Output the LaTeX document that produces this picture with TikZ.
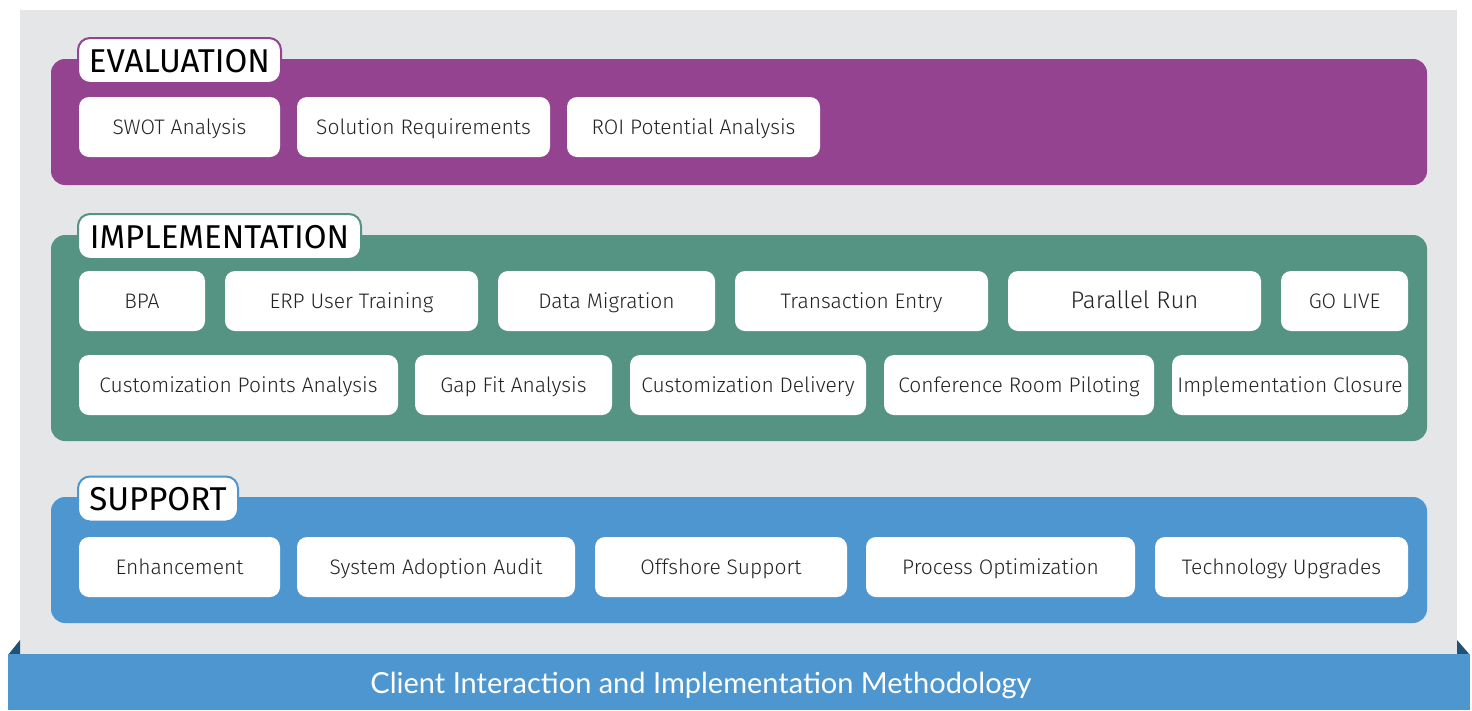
\documentclass[tikz,border=0pt]{standalone}
\usepackage{fontspec}
\setmainfont{Fira Sans}[UprightFont=* Light]
\newfontfamily\tabfont{Fira Sans}
\newfontfamily\bannerfont{Lato}

\definecolor{backgray}{RGB}{229,230,232}
\definecolor{evalpurple}{RGB}{147,67,143}
\definecolor{implgreen}{RGB}{85,147,130}
\definecolor{suppblue}{RGB}{78,150,208}
\definecolor{ribbondark}{RGB}{31,82,118}
\definecolor{itemtext}{RGB}{35,35,35}

\tikzset{
  panel/.style={fill=#1, rounded corners=14pt, inner sep=0pt},
  tab/.style={draw=#1, line width=2pt, fill=white, rounded corners=12pt,
    inner sep=0pt, minimum height=45pt, text height=23pt, text depth=0pt,
    font=\tabfont\fontsize{33}{33}\selectfont},
  item/.style={fill=white, rounded corners=10pt, inner sep=0pt,
    minimum height=60pt, text height=15pt, text depth=0pt, text=itemtext,
    font=\fontsize{21}{21}\selectfont}
}

\begin{document}
\begin{tikzpicture}[x=1pt,y=-1pt]
  \useasboundingbox (0,0) rectangle (1472,710);

  % grey board and the ribbon under it
  \fill[backgray] (20,10) rectangle (1457,655);
  \fill[ribbondark] (20,640) -- (20,655) -- (8,655) -- cycle;
  \fill[ribbondark] (1457,640) -- (1457,655) -- (1470,655) -- cycle;
  \node[fill=suppblue, minimum width=1462pt, minimum height=56pt, inner sep=0pt] (banner) at (739,682) {};
  \node[text=white, text height=20pt, text depth=0pt, inner sep=0pt,
    font=\bannerfont\fontsize{29}{29}\selectfont] (title) at (701,683)
    {Client Interaction and Implementation Methodology};

  % the three phases
  \node[panel=evalpurple, minimum width=1376pt, minimum height=126pt] (evaluation) at (739,122) {};
  \node[panel=implgreen,  minimum width=1376pt, minimum height=206pt] (implementation) at (739,338) {};
  \node[panel=suppblue,   minimum width=1376pt, minimum height=126pt] (support) at (739,560) {};

  \node[tab=evalpurple, minimum width=203pt] (evaltab) at (179.5,60.5) {EVALUATION};
  \node[tab=implgreen,  minimum width=283pt] (impltab) at (219.5,236.5) {IMPLEMENTATION};
  \node[tab=suppblue,   minimum width=160pt] (supptab) at (158,499) {SUPPORT};

  % evaluation steps
  \foreach \name/\xa/\xb/\txt in {swot/79/280/SWOT Analysis,
      solreq/297/550/Solution Requirements,
      roi/567/820/ROI Potential Analysis}
    \node[item, minimum width={\xb-\xa}] (\name) at ({(\xa+\xb)/2},127) {\txt};

  % implementation steps
  \foreach \name/\xa/\xb/\txt in {bpa/79/205/BPA,
      training/225/478/ERP User Training,
      migration/498/715/Data Migration,
      entry/735/988/Transaction Entry,
      parallel/1008/1261/{\fontsize{24}{24}\selectfont Parallel Run},
      golive/1281/1408/GO LIVE}
    \node[item, minimum width={\xb-\xa}] (\name) at ({(\xa+\xb)/2},301) {\txt};

  \foreach \name/\xa/\xb/\txt in {custpoints/79/398/Customization Points Analysis,
      gapfit/415/612/Gap Fit Analysis,
      custdelivery/630/866/Customization Delivery,
      crp/884/1154/Conference Room Piloting,
      closure/1172/1408/Implementation Closure}
    \node[item, minimum width={\xb-\xa}] (\name) at ({(\xa+\xb)/2},385) {\txt};

  % support steps
  \foreach \name/\xa/\xb/\txt in {enhance/79/280/Enhancement,
      audit/297/575/System Adoption Audit,
      offshore/595/847/Offshore Support,
      optimize/866/1135/Process Optimization,
      upgrades/1155/1408/Technology Upgrades}
    \node[item, minimum width={\xb-\xa}] (\name) at ({(\xa+\xb)/2},567) {\txt};
\end{tikzpicture}
\end{document}
